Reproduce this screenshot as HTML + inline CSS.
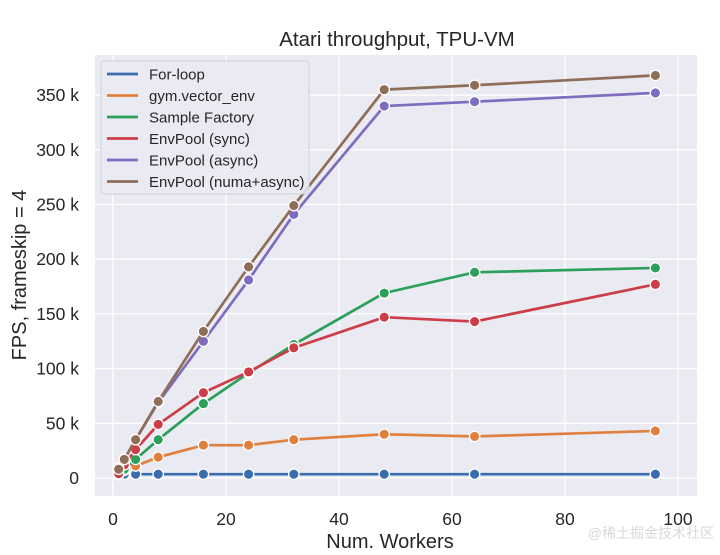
<!DOCTYPE html>
<html><head><meta charset="utf-8"><style>
body{margin:0;background:#fff;}
svg{display:block;font-family:"Liberation Sans","DejaVu Sans",sans-serif;}
</style></head><body>
<svg id="c" width="720" height="555"></svg>
<script>
const xs=[1,2,4,8,16,24,32,48,64,96];
const seriesNames=["For-loop","gym.vector_env","Sample Factory","EnvPool (sync)","EnvPool (async)","EnvPool (numa+async)"];
const forLoop=[3.5,3.5,3.5,3.5,3.5,3.5,3.5,3.5,3.5,3.5];
const gymVec=[5,7,11,19,30,30,35,40,38,43];
const sampleFactory=[3,8,17,35,68,96,122,169,188,192];
const envSync=[4,12,26,49,78,97,119,147,143,177];
const envAsync=[9,17,35,69,125,181,241,340,344,352];
const envNuma=[8,17,35,70,134,193,249,355,359,368];
const xTicks=[0,20,40,60,80,100];
const yTicks=[0,50,100,150,200,250,300,350];
const colors=["#3a6db0","#e0803e","#2ca05a","#cc3d48","#7d6cbf","#8f6e58"];
const all=[forLoop,gymVec,sampleFactory,envSync,envAsync,envNuma];
const X=v=>113+v*5.65, Y=v=>478-v*1.094;
const svg=document.getElementById('c');const NS="http://www.w3.org/2000/svg";
function mk(t,a,p){const e=document.createElementNS(NS,t);for(const k in a)e.setAttribute(k,a[k]);(p||svg).appendChild(e);return e;}
let e=mk('rect',{x:95,y:55,width:602,height:441,fill:'#eaeaf2'});

xTicks.forEach(t=>{let g=mk('line',{x1:X(t),x2:X(t),y1:55,y2:496,stroke:'#fff','stroke-width':1.3});

let l=mk('text',{x:X(t),y:525,'text-anchor':'middle','font-size':17.5,fill:'#262626'});l.textContent=t;
});
yTicks.forEach(t=>{let g=mk('line',{x1:95,x2:697,y1:Y(t),y2:Y(t),stroke:'#fff','stroke-width':1.3});

let l=mk('text',{x:79,y:Y(t)+6,'text-anchor':'end','font-size':17.5,fill:'#262626'});l.textContent=t===0?'0':t+' k';
});
all.forEach((s,i)=>{let p=mk('polyline',{points:xs.map((x,j)=>X(x)+','+Y(s[j])).join(' '),fill:'none',stroke:colors[i],'stroke-width':2.7});

xs.forEach((x,j)=>{let c=mk('circle',{cx:X(x),cy:Y(s[j]),r:5.2,fill:colors[i],stroke:'#fff','stroke-width':1.3});
});});
let lg=mk('rect',{x:101,y:61,width:208,height:133,rx:3,fill:'#eaeaf2',stroke:'#d0d0d8','fill-opacity':0.85});

seriesNames.forEach((n,i)=>{let y=74+i*21.5;
let l=mk('line',{x1:107,x2:138,y1:y,y2:y,stroke:colors[i],'stroke-width':2.7});

let t=mk('text',{x:149,y:y+5.5,'font-size':15,fill:'#262626'});t.textContent=n;
});
let ti=mk('text',{x:397,y:46,'text-anchor':'middle','font-size':20.5,fill:'#262626'});ti.textContent='Atari throughput, TPU-VM';

let xl=mk('text',{x:390,y:548,'text-anchor':'middle','font-size':20,fill:'#262626'});xl.textContent='Num. Workers';

let yl=mk('text',{x:26,y:275,'text-anchor':'middle','font-size':20,fill:'#262626',transform:'rotate(-90 26 275)'});yl.textContent='FPS, frameskip = 4';

let wm=mk('text',{x:714,y:538,'text-anchor':'end','font-size':14,fill:'#d8d8d8',style:'font-family:"Liberation Sans","Noto Sans CJK SC",sans-serif'});wm.textContent='@稀土掘金技术社区';

</script>
</body></html>
